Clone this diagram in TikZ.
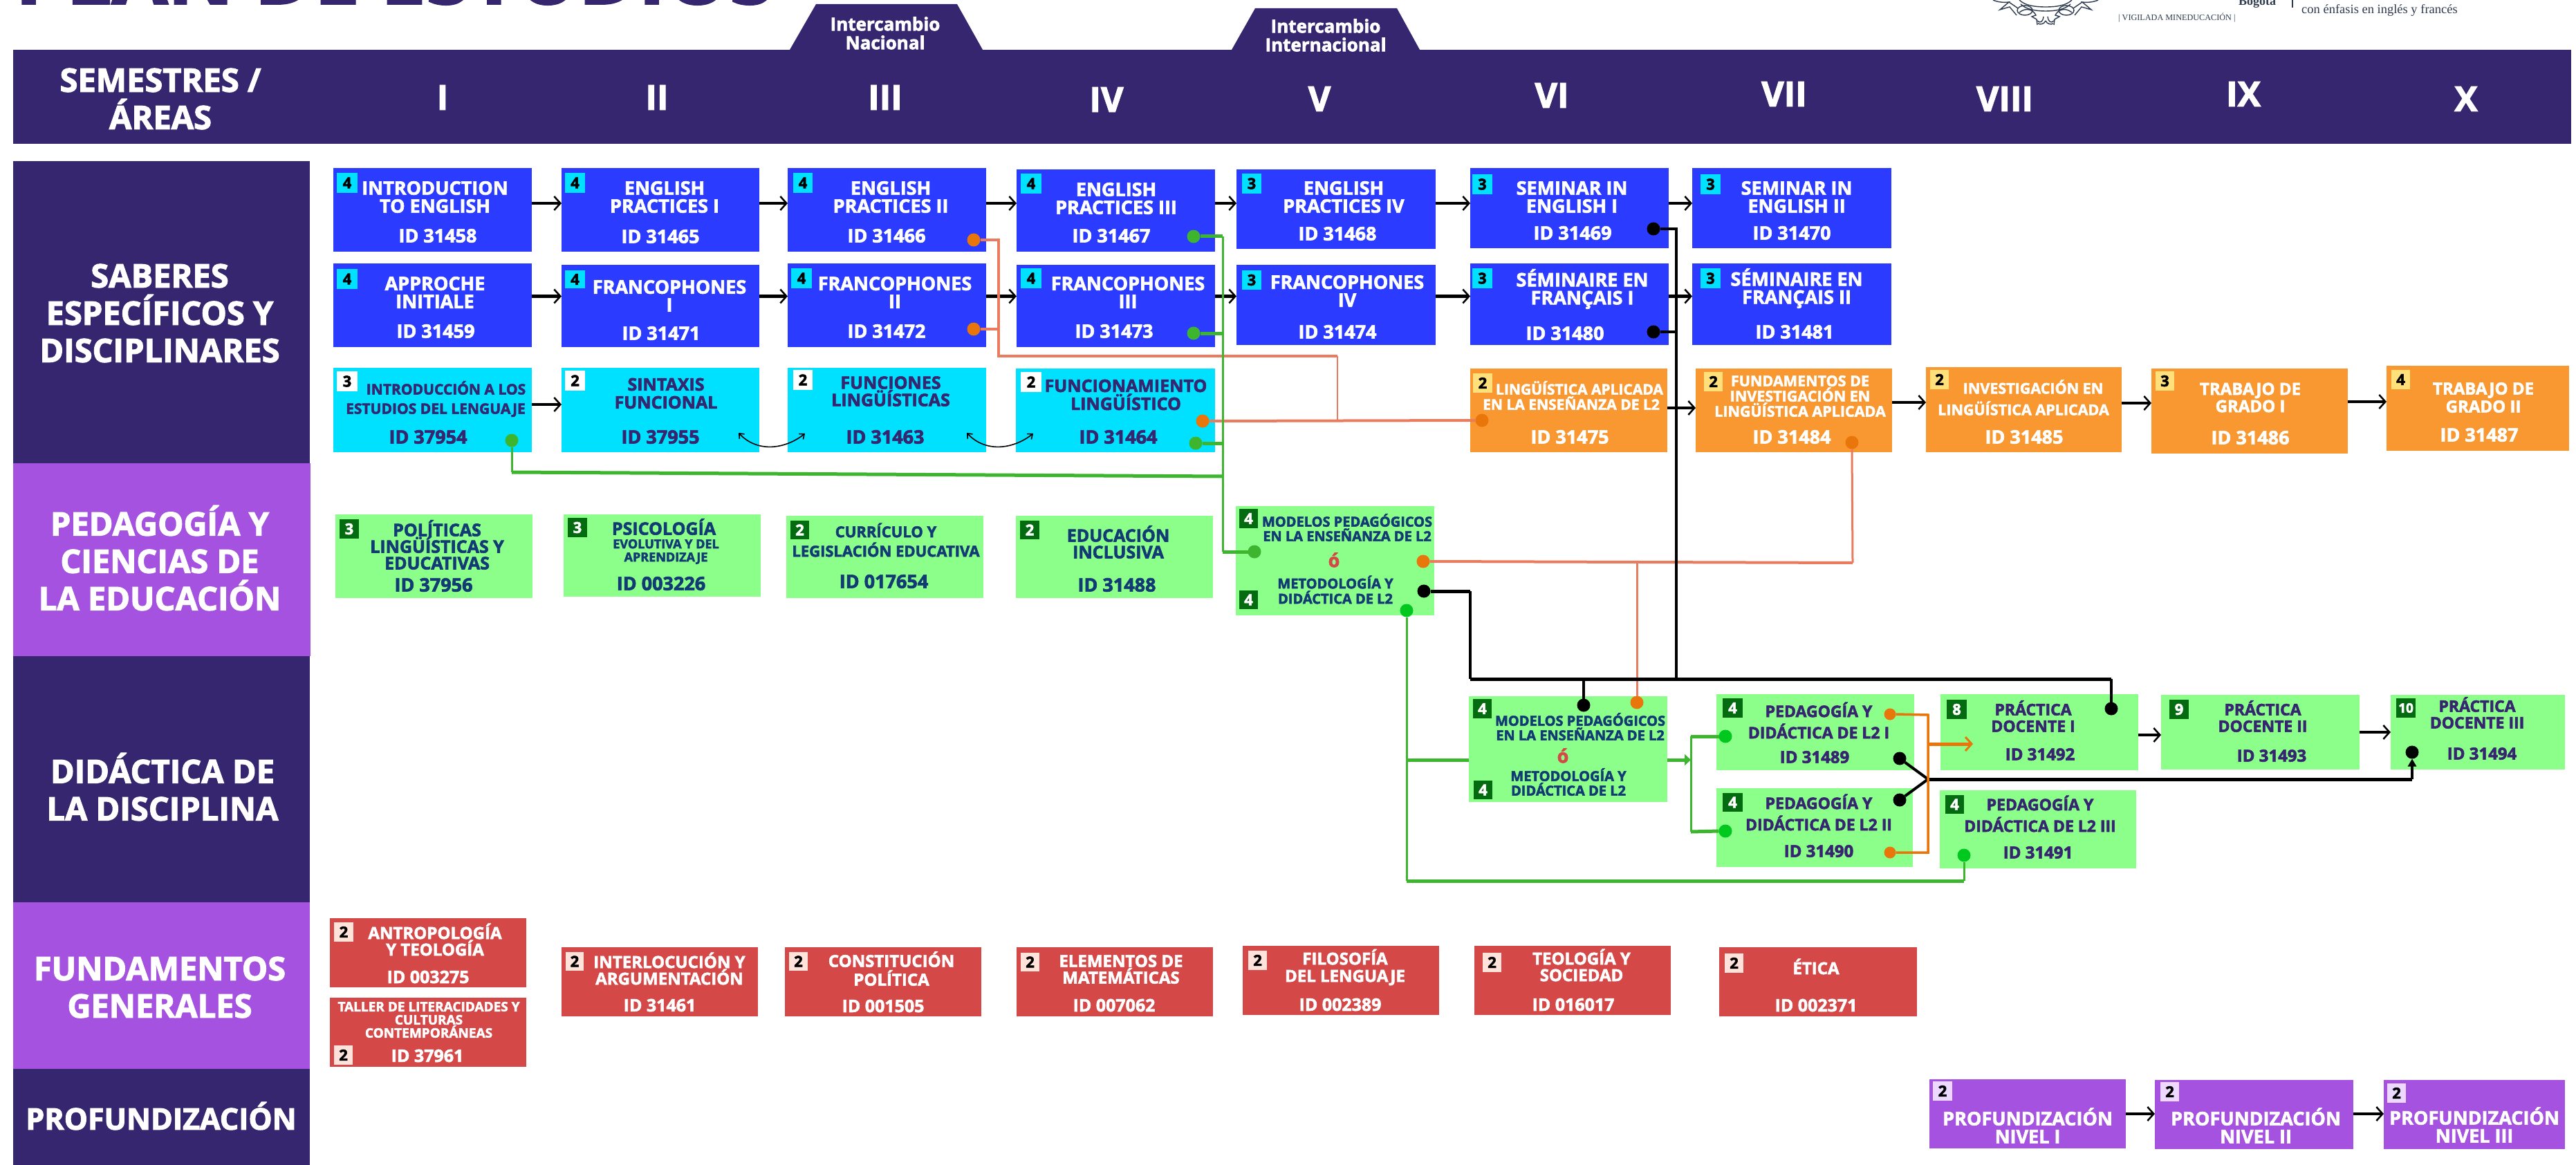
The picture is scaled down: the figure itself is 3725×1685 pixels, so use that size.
\documentclass[tikz,border=0pt]{standalone}
\usepackage{fontspec}
\setmainfont{Open Sans}[BoldFeatures={FakeBold=2.4}]
\newfontfamily\serifx{Liberation Serif}
\usetikzlibrary{arrows.meta,calc}
\definecolor{navy}{HTML}{35266F}
\definecolor{lila}{HTML}{A552E0}
\definecolor{cblue}{HTML}{2B3BFF}
\definecolor{ccyan}{HTML}{00E0FF}
\definecolor{corange}{HTML}{F99830}
\definecolor{cgreen}{HTML}{8CFF8A}
\definecolor{cred}{HTML}{D44848}
\definecolor{dgreen}{HTML}{056B10}
\definecolor{byell}{HTML}{FFE07A}
\definecolor{bpink}{HTML}{FFE2DA}
\definecolor{blav}{HTML}{EDD9FF}
\definecolor{tteal}{HTML}{123B73}
\definecolor{salmon}{HTML}{E97B5F}
\definecolor{dotor}{HTML}{E8760A}
\definecolor{lgreen}{HTML}{3DB52E}
\definecolor{bgreenx}{HTML}{00C81E}
\definecolor{sealc}{HTML}{2F3B4F}
\newcommand{\fz}[2]{\fontsize{#1}{#2}\selectfont\bfseries}
\newcommand{\cbox}[6]{\pgfmathsetmacro\bw{#4-#2}\pgfmathsetmacro\bh{#5-#3}\pgfmathsetmacro\bx{(#2+#4)/2}\pgfmathsetmacro\by{(#3+#5)/2}\node[#6,minimum width=\bw pt,minimum height=\bh pt] (#1) at (\bx,\by) {};}
\newcommand{\bdg}[7]{\pgfmathsetmacro\bw{#4-#2}\pgfmathsetmacro\bh{#5-#3}\pgfmathsetmacro\bx{(#2+#4)/2}\pgfmathsetmacro\by{(#3+#5)/2}\node[#6,minimum width=\bw pt,minimum height=\bh pt] (#1) at (\bx,\by) {#7};}
\tikzset{
 base/.style={inner sep=0pt,outer sep=0pt,rectangle},
 navybox/.style={base,fill=navy},
 lilabox/.style={base,fill=lila},
 bluebox/.style={base,fill=cblue},
 cyanbox/.style={base,fill=ccyan},
 orangebox/.style={base,fill=corange},
 greenbox/.style={base,fill=cgreen},
 redbox/.style={base,fill=cred},
 numb/.style={base,font=\fz{22}{22}},
 bc/.style={numb,fill=ccyan,text=black},
 bw/.style={numb,fill=white,text=black},
 by/.style={numb,fill=byell,text=black},
 bg/.style={numb,fill=dgreen,text=white},
 bp/.style={numb,fill=bpink,text=black},
 bl/.style={numb,fill=blav,text=black},
 txt/.style={inner sep=0pt,align=center},
 tw/.style={txt,text=white,font=\fz{27}{26}},
 tn/.style={txt,text=navy,font=\fz{27}{26}},
 tt/.style={txt,text=tteal,font=\fz{25}{24}},
 idw/.style={txt,text=white,font=\fz{27}{27}},
 idn/.style={txt,text=navy,font=\fz{27}{27}},
 idt/.style={txt,text=tteal,font=\fz{27}{27}},
 area/.style={txt,text=white,font=\fz{47}{54}},
 roman/.style={txt,text=white,font=\fz{50}{50}},
 dot/.style={circle,inner sep=0pt,outer sep=0pt,minimum size=19pt},
 arr/.style={draw=black,line width=4.5pt,-{Straight Barb[length=9pt,width=20pt,line width=2.5pt]}},
 sal/.style={draw=salmon,line width=3.5pt},
 blk/.style={draw=black,line width=3.5pt},
 blkt/.style={draw=black,line width=5pt},
 grn/.style={draw=lgreen,line width=3pt},
 grnt/.style={draw=lgreen,line width=5pt},
 orl/.style={draw=dotor,line width=3.5pt},
 curv/.style={draw=black,line width=1.6pt,{Straight Barb[length=6pt,width=10pt]}-{Straight Barb[length=6pt,width=10pt]}},
 seal/.style={draw=sealc,line width=1.4pt}
}
\begin{document}
\begin{tikzpicture}[x=1pt,y=-1pt]
\clip (0,0) rectangle (3725,1685);
\fill[white] (0,0) rectangle (3725,1685);
% title and logo
\node[anchor=base west,inner sep=0pt,text=navy,font=\fz{117}{117}] (title) at (22,5.5) {PLAN DE ESTUDIOS};
\begin{scope}[shift={(2850,0)}]
 \foreach \s/\o in {1/0,-1/216}{
 \begin{scope}[shift={(\o,0)},x=\s pt]
  \draw[seal] (32,0) .. controls (38,3) and (48,4) .. (55,3) -- (42,14) -- (56,10) -- (66,22);
  \draw[seal] (55,3) -- (68,12);
  \draw[seal] (70,0) .. controls (78,8) and (92,10) .. (108,10);
  \draw[seal] (72,6) .. controls (80,14) and (95,16) .. (108,16);
  \draw[seal] (78,15) circle[x radius=11pt,y radius=7pt];
  \draw[seal] (70,18) .. controls (80,10) and (90,14) .. (94,22) -- (88,24) -- (95,28) -- (96,36);
  \draw[seal] (96,30) .. controls (100,34) and (104,32) .. (105,24);
  \draw[seal] (97,34) .. controls (100,36) and (106,35) .. (108,30);
 \end{scope}}
\end{scope}
\node[anchor=base,inner sep=0pt,text=sealc,font=\serifx\fontsize{18}{18}\selectfont\bfseries] (bogota) at (3264,8) {Bogotá};
\node[anchor=base west,inner sep=0pt,text=sealc,font=\serifx\fontsize{18.5}{18}\selectfont] (enf) at (3328,20) {con énfasis en inglés y francés};
\node[anchor=base west,inner sep=0pt,text=sealc,font=\serifx\fontsize{12.2}{12}\selectfont] (vig) at (3063,29.5) {| VIGILADA MINEDUCACIÓN |};
\fill[sealc] (3314,0) rectangle (3316,11);
% exchange tabs + header
\fill[navy] (1142,72) -- (1180,6) -- (1384,6) -- (1421,72) -- cycle;
\fill[navy] (1781,72) -- (1815,12) -- (2020,12) -- (2053,72) -- cycle;
\cbox{hdr}{19}{72}{3718}{208}{navybox}
\node[txt,text=white,font=\fz{26}{27}] (tab1) at (1280,48) {Intercambio\\Nacional};
\node[txt,text=white,font=\fz{26}{27}] (tab2) at (1917,51) {Intercambio\\Internacional};
\node[area] (ahdr) at (232,143) {SEMESTRES /\\ÁREAS};
\node[roman] (r1) at (640,141) {I};
\node[roman] (r2) at (950,141) {II};
\node[roman] (r3) at (1280,141) {III};
\node[roman] (r4) at (1600,144) {IV};
\node[roman] (r5) at (1908,143) {V};
\node[roman] (r6) at (2244,138) {VI};
\node[roman] (r7) at (2580,136) {VII};
\node[roman] (r8) at (2899,143) {VIII};
\node[roman] (r9) at (3244,136) {IX};
\node[roman] (r10) at (3566,143) {X};
% area column
\cbox{a1}{19}{233}{448}{670}{navybox}
\cbox{a2}{19}{670}{449}{949}{lilabox}
\cbox{a3}{19}{949}{448}{1305}{navybox}
\cbox{a4}{19}{1305}{448}{1546}{lilabox}
\cbox{a5}{19}{1546}{448}{1685}{navybox}
\node[area] (ta1) at (231,453) {SABERES\\ESPECÍFICOS Y\\DISCIPLINARES};
\node[area] (ta2) at (231,807) {PEDAGOGÍA Y\\CIENCIAS DE\\LA EDUCACIÓN};
\node[area] (ta3) at (235,1138) {DIDÁCTICA DE\\LA DISCIPLINA};
\node[area] (ta4) at (231,1428) {FUNDAMENTOS\\GENERALES};
\node[area,font=\fz{43}{50}] (ta5) at (233,1614) {PROFUNDIZACIÓN};
% row 1
\cbox{e1}{482}{243}{769}{364}{bluebox}
\cbox{e2}{812}{243}{1098}{364}{bluebox}
\cbox{e3}{1139}{243}{1426}{364}{bluebox}
\cbox{e4}{1470}{245}{1757}{364}{bluebox}
\cbox{e5}{1788}{245}{2076}{360}{bluebox}
\cbox{e6}{2126}{243}{2413}{359}{bluebox}
\cbox{e7}{2447}{243}{2735}{359}{bluebox}
\bdg{e1b}{487}{250}{517}{279}{bc}{4}
\bdg{e2b}{817}{250}{846}{279}{bc}{4}
\bdg{e3b}{1147}{250}{1175}{279}{bc}{4}
\bdg{e4b}{1476}{251}{1506}{280}{bc}{4}
\bdg{e5b}{1796}{251}{1824}{280}{bc}{3}
\bdg{e6b}{2129}{252}{2158}{281}{bc}{3}
\bdg{e7b}{2459}{252}{2488}{281}{bc}{3}
\node[tw] (e1t) at (629,285) {INTRODUCTION\\TO ENGLISH};
\node[tw] (e2t) at (961,285) {ENGLISH\\PRACTICES I};
\node[tw] (e3t) at (1288,285) {ENGLISH\\PRACTICES II};
\node[tw] (e4t) at (1614,287) {ENGLISH\\PRACTICES III};
\node[tw] (e5t) at (1943,285) {ENGLISH\\PRACTICES IV};
\node[tw] (e6t) at (2273,285) {SEMINAR IN\\ENGLISH I};
\node[tw] (e7t) at (2598,285) {SEMINAR IN\\ENGLISH II};
\node[idw] (e1i) at (633,341) {ID 31458};
\node[idw] (e2i) at (955,342) {ID 31465};
\node[idw] (e3i) at (1282,341) {ID 31466};
\node[idw] (e4i) at (1607,341) {ID 31467};
\node[idw] (e5i) at (1934,338) {ID 31468};
\node[idw] (e6i) at (2274,337) {ID 31469};
\node[idw] (e7i) at (2591,337) {ID 31470};
% row 2
\cbox{f1}{482}{381}{769}{502}{bluebox}
\cbox{f2}{812}{383}{1098}{502}{bluebox}
\cbox{f3}{1139}{381}{1426}{502}{bluebox}
\cbox{f4}{1470}{383}{1757}{502}{bluebox}
\cbox{f5}{1788}{383}{2076}{499}{bluebox}
\cbox{f6}{2126}{381}{2413}{499}{bluebox}
\cbox{f7}{2447}{381}{2735}{499}{bluebox}
\bdg{f1b}{487}{389}{517}{418}{bc}{4}
\bdg{f2b}{817}{391}{846}{417}{bc}{4}
\bdg{f3b}{1144}{388}{1174}{417}{bc}{4}
\bdg{f4b}{1476}{388}{1506}{417}{bc}{4}
\bdg{f5b}{1796}{391}{1824}{419}{bc}{3}
\bdg{f6b}{2129}{388}{2158}{417}{bc}{3}
\bdg{f7b}{2459}{388}{2488}{417}{bc}{3}
\node[tw] (f1t) at (629,423) {APPROCHE\\INITIALE};
\node[tw] (f2t) at (968,428) {FRANCOPHONES\\I};
\node[tw] (f3t) at (1294,423) {FRANCOPHONES\\II};
\node[tw] (f4t) at (1631,423) {FRANCOPHONES\\III};
\node[tw] (f5t) at (1948,421) {FRANCOPHONES\\IV};
\node[tw] (f6t) at (2288,418) {SÉMINAIRE EN\\FRANÇAIS I};
\node[tw] (f7t) at (2598,417) {SÉMINAIRE EN\\FRANÇAIS II};
\node[idw] (f1i) at (630,479) {ID 31459};
\node[idw] (f2i) at (956,482) {ID 31471};
\node[idw] (f3i) at (1282,479) {ID 31472};
\node[idw] (f4i) at (1611,479) {ID 31473};
\node[idw] (f5i) at (1934,480) {ID 31474};
\node[idw] (f6i) at (2263,482) {ID 31480};
\node[idw] (f7i) at (2595,480) {ID 31481};
% row 3
\cbox{g1}{482}{532}{769}{654}{cyanbox}
\cbox{g2}{812}{532}{1098}{654}{cyanbox}
\cbox{g3}{1139}{532}{1426}{654}{cyanbox}
\cbox{g4}{1469}{533}{1757}{654}{cyanbox}
\cbox{g6}{2126}{533}{2411}{654}{orangebox}
\cbox{g7}{2452}{533}{2736}{654}{orangebox}
\cbox{g8}{2785}{531}{3068}{654}{orangebox}
\cbox{g9}{3111}{533}{3395}{656}{orangebox}
\cbox{g10}{3451}{529}{3715}{652}{orangebox}
\bdg{g1b}{487}{537}{517}{566}{bw}{3}
\bdg{g2b}{817}{536}{846}{565}{bw}{2}
\bdg{g3b}{1147}{535}{1175}{564}{bw}{2}
\bdg{g4b}{1476}{538}{1506}{567}{bw}{2}
\bdg{g6b}{2130}{540}{2158}{568}{by}{2}
\bdg{g7b}{2464}{538}{2491}{566}{by}{2}
\bdg{g8b}{2791}{535}{2818}{563}{by}{2}
\bdg{g9b}{3117}{537}{3144}{565}{by}{3}
\bdg{g10b}{3458}{535}{3485}{563}{by}{4}
\node[tn,font=\fz{21}{28}] (g1t) at (630,577) {\hspace*{30pt}INTRODUCCIÓN A LOS\\ESTUDIOS DEL LENGUAJE};
\node[tn,font=\fz{25}{26}] (g2t) at (963,569) {SINTAXIS\\FUNCIONAL};
\node[tn,font=\fz{25}{25}] (g3t) at (1288,566) {FUNCIONES\\LINGÜÍSTICAS};
\node[tn,font=\fz{25}{26}] (g4t) at (1628,571) {FUNCIONAMIENTO\\LINGÜÍSTICO};
\node[tw,font=\fz{21}{22}] (g6t) at (2272,572) {\hspace*{24pt}LINGÜÍSTICA APLICADA\\EN LA ENSEÑANZA DE L2};
\node[tw,font=\fz{21.5}{22}] (g7t) at (2603,573) {FUNDAMENTOS DE\\INVESTIGACIÓN EN\\LINGÜÍSTICA APLICADA};
\node[tw,font=\fz{21.5}{31}] (g8t) at (2926,575) {\hspace*{28pt}INVESTIGACIÓN EN\\LINGÜÍSTICA APLICADA};
\node[tw,font=\fz{24}{25}] (g9t) at (3254,575) {TRABAJO DE\\GRADO I};
\node[tw,font=\fz{24}{26}] (g10t) at (3591,575) {TRABAJO DE\\GRADO II};
\node[idn] (g1i) at (619,632) {ID 37954};
\node[idn] (g2i) at (955,632) {ID 37955};
\node[idn] (g3i) at (1280,632) {ID 31463};
\node[idn] (g4i) at (1617,632) {ID 31464};
\node[idw] (g6i) at (2270,632) {ID 31475};
\node[idw] (g7i) at (2591,632) {ID 31484};
\node[idw] (g8i) at (2927,632) {ID 31485};
\node[idw] (g9i) at (3254,633) {ID 31486};
\node[idw] (g10i) at (3585,629) {ID 31487};
% pedagogy row
\cbox{p1}{485}{744}{770}{865}{greenbox}
\cbox{p2}{815}{744}{1100}{863}{greenbox}
\cbox{p3}{1137}{746}{1422}{865}{greenbox}
\cbox{p4}{1469}{746}{1754}{865}{greenbox}
\cbox{p5}{1787}{732}{2074}{890}{greenbox}
\bdg{p1b}{491}{751}{519}{779}{bg}{3}
\bdg{p2b}{821}{749}{849}{777}{bg}{3}
\bdg{p3b}{1143}{753}{1170}{780}{bg}{2}
\bdg{p4b}{1475}{753}{1503}{780}{bg}{2}
\bdg{p5b}{1792}{736}{1819}{764}{bg}{4}
\bdg{p5c}{1792}{854}{1819}{881}{bg}{4}
\node[tt] (p1t) at (632,788) {POLÍTICAS\\LINGÜÍSTICAS Y\\EDUCATIVAS};
\node[tt] (p2t) at (960,762) {PSICOLOGÍA};
\node[tt,font=\fz{18}{19}] (p2s) at (963,798) {EVOLUTIVA Y DEL\\APRENDIZAJE};
\node[tt,font=\fz{22}{28}] (p3t) at (1281,781) {CURRÍCULO Y\\[0pt]LEGISLACIÓN EDUCATIVA};
\node[tt] (p4t) at (1617,784) {EDUCACIÓN\\INCLUSIVA};
\node[idt] (p1i) at (627,846) {ID 37956};
\node[idt] (p2i) at (956,844) {ID 003226};
\node[idt] (p3i) at (1278,841) {ID 017654};
\node[idt] (p4i) at (1615,846) {ID 31488};
\node[tt,font=\fz{20}{21}] (p5t) at (1948,763) {MODELOS PEDAGÓGICOS\\EN LA ENSEÑANZA DE L2};
\node[txt,text=cred,font=\fz{27}{27}] (p5o) at (1929,810) {ó};
\node[tt,font=\fz{20}{22}] (p5m) at (1931,853) {METODOLOGÍA Y\\DIDÁCTICA DE L2};
% didactics
\cbox{m6}{2124}{1007}{2411}{1160}{greenbox}
\cbox{d1}{2482}{1004}{2768}{1114}{greenbox}
\cbox{d2}{2482}{1140}{2766}{1254}{greenbox}
\cbox{d3}{2805}{1143}{3089}{1256}{greenbox}
\cbox{q1}{2806}{1004}{3092}{1114}{greenbox}
\cbox{q2}{3125}{1005}{3412}{1113}{greenbox}
\cbox{q3}{3457}{1005}{3709}{1113}{greenbox}
\bdg{m6b}{2130}{1011}{2157}{1039}{bg}{4}
\bdg{m6c}{2131}{1129}{2158}{1156}{bg}{4}
\bdg{d1b}{2491}{1010}{2520}{1038}{bg}{4}
\bdg{d2b}{2491}{1147}{2520}{1174}{bg}{4}
\bdg{d3b}{2813}{1150}{2840}{1177}{bg}{4}
\bdg{q1b}{2815}{1012}{2844}{1040}{bg}{8}
\bdg{q2b}{3137}{1012}{3165}{1040}{bg}{9}
\bdg{q3b}{3465}{1010}{3493}{1038}{bg,font=\fz{19}{19}}{10}
\node[tt,font=\fz{20}{21}] (m6t) at (2285,1051) {MODELOS PEDAGÓGICOS\\EN LA ENSEÑANZA DE L2};
\node[txt,text=cred,font=\fz{27}{27}] (m6o) at (2260,1093) {ó};
\node[tt,font=\fz{20}{21}] (m6m) at (2268,1131) {METODOLOGÍA Y\\DIDÁCTICA DE L2};
\node[tn,font=\fz{23}{31}] (d1t) at (2630,1042) {PEDAGOGÍA Y\\DIDÁCTICA DE L2 I};
\node[tn,font=\fz{23}{31}] (d2t) at (2630,1175) {PEDAGOGÍA Y\\DIDÁCTICA DE L2 II};
\node[tn,font=\fz{23}{31}] (d3t) at (2950,1177) {PEDAGOGÍA Y\\DIDÁCTICA DE L2 III};
\node[tn,font=\fz{23}{24}] (q1t) at (2940,1036) {PRÁCTICA\\DOCENTE I};
\node[tn,font=\fz{23}{24}] (q2t) at (3272,1036) {PRÁCTICA\\DOCENTE II};
\node[tn,font=\fz{23}{24}] (q3t) at (3582,1031) {PRÁCTICA\\DOCENTE III};
\node[idn,font=\fz{24}{24}] (d1i) at (2624,1095) {ID 31489};
\node[idn,font=\fz{24}{24}] (d2i) at (2630,1231) {ID 31490};
\node[idn,font=\fz{24}{24}] (d3i) at (2947,1233) {ID 31491};
\node[idn,font=\fz{24}{24}] (q1i) at (2950,1091) {ID 31492};
\node[idn,font=\fz{24}{24}] (q2i) at (3285,1093) {ID 31493};
\node[idn,font=\fz{24}{24}] (q3i) at (3589,1090) {ID 31494};
% foundations
\cbox{h1}{477}{1328}{761}{1428}{redbox}
\cbox{h1b}{477}{1443}{761}{1543}{redbox}
\cbox{h2}{812}{1370}{1096}{1470}{redbox}
\cbox{h3}{1135}{1370}{1419}{1470}{redbox}
\cbox{h4}{1470}{1370}{1754}{1470}{redbox}
\cbox{h5}{1797}{1368}{2081}{1468}{redbox}
\cbox{h6}{2132}{1368}{2416}{1468}{redbox}
\cbox{h7}{2486}{1370}{2772}{1470}{redbox}
\bdg{h1n}{483}{1334}{511}{1362}{bp}{2}
\bdg{h1m}{483}{1512}{510}{1540}{bp}{2}
\bdg{h2n}{818}{1377}{844}{1404}{bp}{2}
\bdg{h3n}{1141}{1377}{1168}{1404}{bp}{2}
\bdg{h4n}{1476}{1378}{1503}{1405}{bp}{2}
\bdg{h5n}{1805}{1375}{1832}{1403}{bp}{2}
\bdg{h6n}{2144}{1378}{2171}{1406}{bp}{2}
\bdg{h7n}{2494}{1379}{2521}{1407}{bp}{2}
\node[tw,font=\fz{24}{24}] (h1t) at (629,1359) {ANTROPOLOGÍA\\Y TEOLOGÍA};
\node[tw,font=\fz{19}{19}] (h1s) at (620,1475) {TALLER DE LITERACIDADES Y\\CULTURAS\\CONTEMPORÁNEAS};
\node[tw,font=\fz{24}{24}] (h2t) at (968,1401) {INTERLOCUCIÓN Y\\ARGUMENTACIÓN};
\node[tw,font=\fz{24}{27}] (h3t) at (1289,1401) {CONSTITUCIÓN\\POLÍTICA};
\node[tw,font=\fz{24}{24}] (h4t) at (1621,1402) {ELEMENTOS DE\\MATEMÁTICAS};
\node[tw,font=\fz{24}{25}] (h5t) at (1945,1399) {FILOSOFÍA\\DEL LENGUAJE};
\node[tw,font=\fz{24}{24}] (h6t) at (2287,1396) {TEOLOGÍA Y\\SOCIEDAD};
\node[tw,font=\fz{24}{24}] (h7t) at (2626,1398) {ÉTICA};
\node[idw,font=\fz{25}{25}] (h1i) at (619,1413) {ID 003275};
\node[idw,font=\fz{25}{25}] (h1j) at (618,1527) {ID 37961};
\node[idw,font=\fz{25}{25}] (h2i) at (954,1454) {ID 31461};
\node[idw,font=\fz{25}{25}] (h3i) at (1277,1455) {ID 001505};
\node[idw,font=\fz{25}{25}] (h4i) at (1611,1454) {ID 007062};
\node[idw,font=\fz{25}{25}] (h5i) at (1938,1453) {ID 002389};
\node[idw,font=\fz{25}{25}] (h6i) at (2275,1453) {ID 016017};
\node[idw,font=\fz{25}{25}] (h7i) at (2626,1454) {ID 002371};
% deepening
\cbox{k1}{2790}{1561}{3074}{1661}{lilabox}
\cbox{k2}{3116}{1562}{3403}{1662}{lilabox}
\cbox{k3}{3447}{1562}{3709}{1662}{lilabox}
\bdg{k1b}{2795}{1564}{2823}{1592}{bl}{2}
\bdg{k2b}{3124}{1565}{3151}{1593}{bl}{2}
\bdg{k3b}{3452}{1567}{3479}{1595}{bl}{2}
\node[tw] (k1t) at (2932,1628) {PROFUNDIZACIÓN\\NIVEL I};
\node[tw] (k2t) at (3262,1628) {PROFUNDIZACIÓN\\NIVEL II};
\node[tw] (k3t) at (3578,1627) {PROFUNDIZACIÓN\\NIVEL III};
% dots
\node[dot,fill=dotor] (oa) at (1408,347) {};
\node[dot,fill=dotor] (ob) at (1408,476) {};
\node[dot,fill=dotor] (oc) at (1739,609) {};
\node[dot,fill=dotor] (od) at (2143,608) {};
\node[dot,fill=dotor] (oe) at (2678,640) {};
\node[dot,fill=dotor] (of) at (2058,812) {};
\node[dot,fill=dotor] (og) at (2367,1016) {};
\node[dot,fill=dotor,minimum size=17pt] (oh) at (2733,1033) {};
\node[dot,fill=dotor,minimum size=17pt] (oi) at (2733,1233) {};
\node[dot,fill=black] (ka) at (2391,331) {};
\node[dot,fill=black] (kb) at (2391,480) {};
\node[dot,fill=black] (kc) at (2059,855) {};
\node[dot,fill=black] (kd) at (2290,1020) {};
\node[dot,fill=black] (ke) at (3053,1025) {};
\node[dot,fill=black] (kf) at (2747,1097) {};
\node[dot,fill=black] (kg) at (2747,1157) {};
\node[dot,fill=black] (kh) at (3488,1088) {};
\node[dot,fill=lgreen] (ga) at (1726,342) {};
\node[dot,fill=lgreen] (gb) at (1726,482) {};
\node[dot,fill=lgreen] (gc) at (1729,641) {};
\node[dot,fill=lgreen] (gd) at (740,637) {};
\node[dot,fill=lgreen] (ge) at (1814,798) {};
\node[dot,fill=bgreenx] (gf) at (2034,883) {};
\node[dot,fill=bgreenx] (gg) at (2840,1237) {};
\node[dot,fill=bgreenx] (gh) at (2495,1065) {};
\node[dot,fill=bgreenx] (gi) at (2495,1202) {};
% row arrows
\coordinate (y1) at (0,294);
\coordinate (y2) at (0,428.5);
\foreach \a/\b in {e1/e2,e2/e3,e3/e4,e4/e5,e5/e6,e6/e7}{\draw[arr] (\a.east |- y1) -- (\b.west |- y1);}
\foreach \a/\b in {f1/f2,f2/f3,f3/f4,f4/f5,f5/f6,f6/f7}{\draw[arr] (\a.east |- y2) -- (\b.west |- y2);}
\coordinate (y3a) at (0,585);
\coordinate (y3b) at (0,590);
\coordinate (y3c) at (0,582);
\coordinate (y3d) at (0,583);
\coordinate (y3e) at (0,581);
\draw[arr] (g1.east |- y3a) -- (g2.west |- y3a);
\draw[arr] (g6.east |- y3b) -- (g7.west |- y3b);
\draw[arr] (g7.east |- y3c) -- (g8.west |- y3c);
\draw[arr] (g8.east |- y3d) -- (g9.west |- y3d);
\draw[arr] (g9.east |- y3e) -- (g10.west |- y3e);
\coordinate (y4) at (0,1063);
\coordinate (y5) at (0,1059);
\draw[arr] (q1.east |- y4) -- (q2.west |- y4);
\draw[arr] (q2.east |- y5) -- (q3.west |- y5);
\coordinate (y6) at (0,1611);
\draw[arr] (k1.east |- y6) -- (k2.west |- y6);
\draw[arr] (k2.east |- y6) -- (k3.west |- y6);
% curved links
\coordinate (ca) at (1068,626);
\coordinate (cb) at (1164,627);
\coordinate (cc) at (1398,626);
\coordinate (cd) at (1494,627);
\draw[curv] (ca) .. controls (1095,655) and (1135,650) .. (cb);
\draw[curv] (cc) .. controls (1425,655) and (1465,650) .. (cd);
% salmon links
\coordinate (sa) at (1444,347);
\coordinate (sb) at (1444,476);
\coordinate (sc) at (1444,515);
\coordinate (sd) at (1934,515);
\coordinate (se) at (1934,609);
\coordinate (sf) at (2679,814);
\coordinate (sg) at (2367,814);
\draw[sal] (oa.east) -- (sa) -- (sc) -- (sd);
\draw[sal,line width=2.5pt] (sd) -- (se);
\draw[sal] (ob.east) -- (sb);
\draw[sal,line width=4pt] (oc.east) -- (od.west);
\draw[sal,line width=4pt] (of.east) -- (sf);
\draw[sal,line width=3pt] (oe.south) -- (sf);
\draw[sal,line width=3pt] (sg) -- (og.north);
% black links
\coordinate (ba) at (2424,331);
\coordinate (bb) at (2424,480);
\coordinate (bc) at (2424,983);
\coordinate (bd) at (2126,855);
\coordinate (be) at (2126,982);
\coordinate (bf) at (3053,982);
\coordinate (bg1) at (2290,982);
\coordinate (bh) at (2788,1127);
\coordinate (bi) at (3488,1127);
\draw[blk] (ka.east) -- (ba) -- (bc);
\draw[blk] (kb.east) -- (bb);
\draw[blkt] (kc.east) -- (bd);
\draw[blk] (bd) -- (be);
\draw[blkt] (be) -- (bf);
\draw[blk] (bf) -- (ke.north);
\draw[blk] (bg1) -- (kd.north);
\draw[blk,line width=4pt] (kf) -- (bh) -- (kg);
\draw[blkt] (bh) -- (bi);
\draw[blk,-{Triangle[length=11pt,width=12pt]}] (bi) -- (kh.south);
% green links
\coordinate (la) at (1768,342);
\coordinate (lb) at (1768,482);
\coordinate (lc) at (1768,641);
\coordinate (ld) at (1768,689);
\coordinate (le) at (1768,798);
\coordinate (lf) at (740,683);
\coordinate (lg) at (2034,1274);
\coordinate (lh) at (2840,1274);
\coordinate (li) at (2034,1099);
\coordinate (lj) at (2445,1099);
\coordinate (lk) at (2445,1065);
\coordinate (ll) at (2445,1203);
\draw[grnt] (ga.east) -- (la);
\draw[grn] (la) -- (le);
\draw[grnt] (le) -- (ge.west);
\draw[grnt] (gb.east) -- (lb);
\draw[grnt] (gc.east) -- (lc);
\draw[grn] (gd.south) -- (lf);
\draw[grnt] (lf) -- (ld);
\draw[grn] (gf.south) -- (lg);
\draw[grnt] (lg) -- (lh);
\draw[grn] (lh) -- (gg.south);
\draw[grnt] (li) -- (m6.west |- li);
\draw[grnt,-{Triangle[length=9pt,width=16pt]}] (m6.east |- lj) -- (lj);
\draw[grn] (lk) -- (ll);
\draw[grnt] (lk) -- (gh.west);
\draw[grnt] (ll) -- (gi.west);
% orange links
\coordinate (na) at (2788,1034);
\coordinate (nb) at (2788,1233);
\coordinate (nc) at (2788,1076);
\coordinate (nd) at (2853,1076);
\draw[orl] (oh.east) -- (na) -- (nb) -- (oi.east);
\draw[orl,line width=5pt,-{Straight Barb[length=9pt,width=20pt,line width=3pt]}] (nc) -- (nd);
\end{tikzpicture}
\end{document}
